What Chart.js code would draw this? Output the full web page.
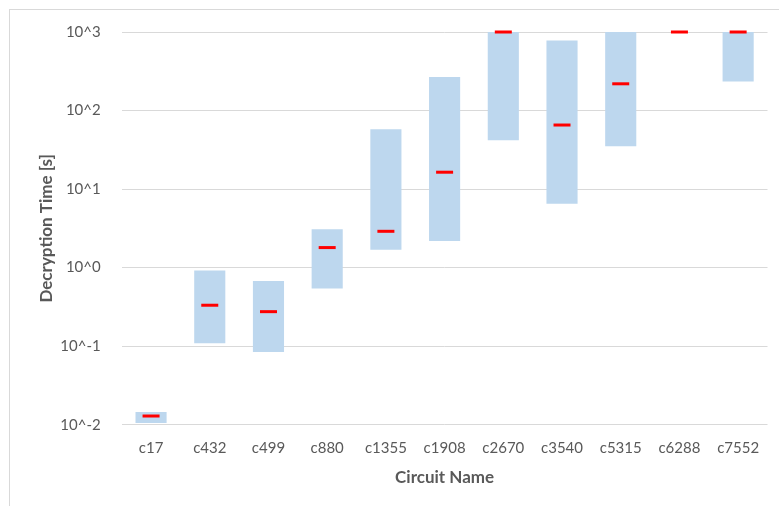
<!DOCTYPE html>
<html>
<head>
<meta charset="utf-8">
<script src="https://cdn.jsdelivr.net/npm/chart.js@4/dist/chart.umd.min.js"></script>
<style>
    body { margin: 0; background: #fff; }
    #frame {
        position: absolute; left: 9px; top: 9px; width: 820px; height: 560px;
        border: 1px solid #d9d9d9; box-sizing: border-box;
    }
    #timeChart { position: absolute; left: 0; top: 0; }
</style>
</head>
<body>
<div id="frame"></div>
<canvas id="timeChart" width="779" height="506"></canvas>
<script>
const circuits = ['c17', 'c432', 'c499', 'c880', 'c1355', 'c1908', 'c2670', 'c3540', 'c5315', 'c6288', 'c7552'];
const minTimes = [0.0105, 0.109, 0.0845, 0.541, 1.69, 2.19, 41.8, 6.52, 35.0, null, 235];
const maxTimes = [0.0145, 0.916, 0.677, 3.08, 57.6, 267, 1000, 782, 1000, null, 1000];
const medianTimes = [0.0129, 0.332, 0.275, 1.80, 2.90, 16.4, 1000, 65.4, 219, 1000, 1000];
const decadeTicks = [0.01, 0.1, 1, 10, 100, 1000];

document.addEventListener('DOMContentLoaded', () => {
    const font = { family: 'Lato, "Open Sans", sans-serif', size: 15 };
    const titleFont = { family: 'Lato, "Open Sans", sans-serif', size: 17, weight: 'bold' };
    const ranges = minTimes.map((lo, i) => (lo === null ? null : [lo, maxTimes[i]]));

    new Chart(document.getElementById('timeChart'), {
        data: {
            labels: circuits,
            datasets: [
                {
                    type: 'line',
                    data: medianTimes,
                    showLine: false,
                    pointStyle: 'line',
                    pointRadius: 8.5,
                    pointBorderWidth: 3,
                    borderColor: '#ff0000',
                    backgroundColor: '#ff0000',
                    clip: false,
                },
                {
                    type: 'bar',
                    data: ranges,
                    backgroundColor: '#bdd7ee',
                    borderWidth: 0,
                    categoryPercentage: 1,
                    barPercentage: 0.53,
                },
            ],
        },
        options: {
            responsive: false,
            animation: false,
            layout: { padding: { left: 0, right: 9, top: 32, bottom: 0 } },
            plugins: { legend: { display: false }, tooltip: { enabled: false } },
            scales: {
                x: {
                    grid: { display: false, drawTicks: false },
                    border: { display: false },
                    ticks: { color: '#595959', font, padding: 14 },
                    title: { display: true, text: 'Circuit Name', color: '#595959', font: titleFont, padding: { top: 0, bottom: 18 } },
                    afterFit: (scale) => { scale.height = 81.3; },
                },
                y: {
                    type: 'logarithmic',
                    min: 0.01,
                    max: 1000,
                    grid: { color: '#d9d9d9', lineWidth: 1, drawTicks: false },
                    border: { display: false },
                    afterBuildTicks: (scale) => { scale.ticks = decadeTicks.map((v) => ({ value: v })); },
                    ticks: {
                        color: '#595959',
                        font,
                        padding: 21,
                        callback: (v) => `10^${Math.round(Math.log10(v))}`,
                    },
                    title: { display: true, text: 'Decryption Time [s]', color: '#595959', font: titleFont, padding: { top: 36, bottom: 0 } },
                    afterFit: (scale) => { scale.width = 121.7; },
                },
            },
        },
    });
});
</script>
</body>
</html>
